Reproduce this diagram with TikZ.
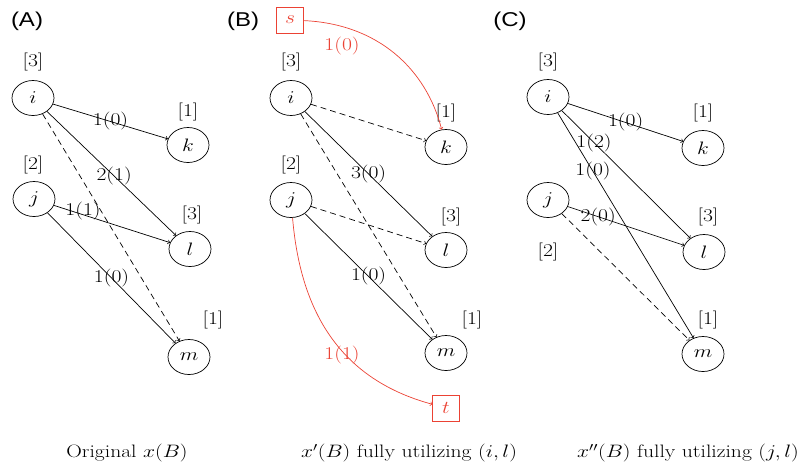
\RequirePackage{fix-cm}
\documentclass[tikz,border=0pt]{standalone}
\usepackage{fontspec}
\newfontfamily\panelfont{Liberation Sans}
\definecolor{flowred}{RGB}{235,66,52}
\begin{document}
\begin{tikzpicture}[x=0.833333pt,y=-1pt,xscale=1.2,transform shape,
  font=\fontsize{18}{21}\selectfont,
  vtx/.style={circle,draw,line width=0.7pt,minimum size=35pt,inner sep=0pt},
  term/.style={rectangle,draw,color=flowred,line width=0.7pt,minimum width=22pt,minimum height=26pt,inner sep=1pt},
  captext/.style={inner sep=0pt},
  elab/.style={inner sep=0pt},
  rlab/.style={inner sep=0pt,text=flowred},
  arr/.style={->,line width=0.7pt},
  darr/.style={->,line width=0.7pt,dash pattern=on 6pt off 4pt},
  rarr/.style={->,line width=0.7pt,draw=flowred},
  panel/.style={font=\panelfont\fontsize{20}{23}\selectfont,inner sep=0pt}]
\useasboundingbox (0,0) rectangle (808,474);

% ---------- panel titles ----------
\node[panel] (pA) at (27,21) {(A)};
\node[panel] (pB) at (243,21) {(B)};
\node[panel] (pC) at (510,21) {(C)};

% ---------- panel A ----------
\node[vtx] (Ai) at (33,98) {$i$};
\node[vtx] (Aj) at (34,199) {$j$};
\node[vtx] (Ak) at (188,145) {$k$};
\node[vtx] (Al) at (190,249) {$l$};
\node[vtx] (Am) at (189,357) {$m$};
\node[captext] (Aic) at (33,62) {[3]};
\node[captext] (Ajc) at (33,165) {[2]};
\node[captext] (Akc) at (188,112) {[1]};
\node[captext] (Alc) at (192,215) {[3]};
\node[captext] (Amc) at (213,320) {[1]};
\draw[arr] (Ai) -- node[elab,pos=.5]{1(0)} (Ak);
\draw[arr] (Ai) -- node[elab,pos=.52]{2(1)} (Al);
\draw[darr] (Ai) -- (Am);
\draw[arr] (Aj) -- node[elab,pos=.25,yshift=4pt]{1(1)} (Al);
\draw[arr] (Aj) -- node[elab,pos=.5]{1(0)} (Am);
\node[captext] (Acap) at (127,453) {Original $x(B)$};

% ---------- panel B ----------
\node[term] (Bs) at (290,20) {$s$};
\node[vtx] (Bi) at (291,98) {$i$};
\node[vtx] (Bj) at (291,200) {$j$};
\node[vtx] (Bk) at (446,147) {$k$};
\node[vtx] (Bl) at (446,250) {$l$};
\node[vtx] (Bm) at (446,353) {$m$};
\node[term] (Bt) at (446,408) {$t$};
\node[captext] (Bic) at (291,62) {[3]};
\node[captext] (Bjc) at (291,165) {[2]};
\node[captext] (Bkc) at (446,113) {[1]};
\node[captext] (Blc) at (451,217) {[3]};
\node[captext] (Bmc) at (472,320) {[1]};
\draw[rarr] (Bs) to[out=-3,in=102] (Bk);
\node[rlab] (Bsl) at (342,46) {1(0)};
\draw[darr] (Bi) -- (Bk);
\draw[arr] (Bi) -- node[elab,pos=.5]{3(0)} (Bl);
\draw[darr] (Bi) -- (Bm);
\draw[darr] (Bj) -- (Bl);
\draw[arr] (Bj) -- node[elab,pos=.5]{1(0)} (Bm);
\draw[rarr] (Bj) to[out=-86,in=162] (Bt);
\node[rlab] (Btl) at (342,355) {1(1)};
\node[captext] (Bcap) at (409,453) {$x'(B)$ fully utilizing $(i,l)$};

% ---------- panel C ----------
\node[vtx] (Ci) at (548,97) {$i$};
\node[vtx] (Cj) at (548,200) {$j$};
\node[vtx] (Ck) at (703,148) {$k$};
\node[vtx] (Cl) at (704,252) {$l$};
\node[vtx] (Cm) at (703,354) {$m$};
\node[captext] (Cic) at (548,62) {[3]};
\node[captext] (Cjc) at (548,252) {[2]};
\node[captext] (Ckc) at (703,113) {[1]};
\node[captext] (Clc) at (708,217) {[3]};
\node[captext] (Cmc) at (708,320) {[1]};
\draw[arr] (Ci) -- node[elab,pos=.5]{1(0)} (Ck);
\draw[arr] (Ci) -- node[elab,pos=.25]{1(2)} (Cl);
\draw[arr] (Ci) -- node[elab,pos=.26]{1(0)} (Cm);
\draw[arr] (Cj) -- node[elab,pos=.26]{2(0)} (Cl);
\draw[darr] (Cj) -- (Cm);
\node[captext] (Ccap) at (688,453) {$x''(B)$ fully utilizing $(j,l)$};
\end{tikzpicture}
\end{document}
